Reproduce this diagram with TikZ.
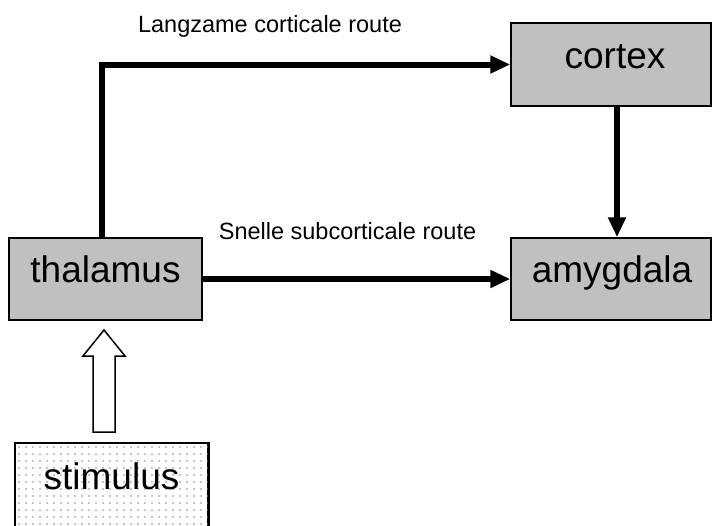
\documentclass[tikz,border=0pt]{standalone}
\usepackage{fontspec}
\setmainfont{Liberation Sans}
\usetikzlibrary{arrows.meta}
\definecolor{boxgray}{HTML}{C0C0C0}
\definecolor{dotgray}{HTML}{8C8C8C}
\begin{document}
\begin{tikzpicture}[x=1pt,y=-1pt,
  box/.style={draw=black,line width=1.5pt,fill=boxgray,inner sep=0pt},
  boxtext/.style={font=\fontsize{37}{40}\selectfont,inner sep=0pt,anchor=base},
  lbl/.style={font=\fontsize{23.5}{28}\selectfont,inner sep=0pt,anchor=base},
  conn/.style={line width=6pt,-{Triangle[length=20pt,width=17pt]}},
  hollow/.style={draw=black,line width=1.5pt,fill=white,line join=miter}]
\useasboundingbox (0,0) rectangle (712,525);
% boxes
\node[box,minimum width=193pt,minimum height=82pt] (thal) at (105.5,279) {};
\node[box,minimum width=200pt,minimum height=83pt] (cort) at (611,64.5) {};
\node[box,minimum width=200pt,minimum height=82pt] (amyg) at (611,279) {};
% stimulus box with dots
\node[draw=black,line width=1.5pt,fill=white,inner sep=0pt,minimum width=193pt,minimum height=92pt] (stim) at (111.5,489) {};
\begin{scope}
  \clip (stim.south west) rectangle (stim.north east);
  \foreach \i in {0,...,28}{
    \foreach \j in {0,...,13}{
      \fill[dotgray] (19+7*\i,447+7*\j) circle (0.85pt);
    }
  }
\end{scope}
\draw[line width=1.5pt] (stim.south west) rectangle (stim.north east);
% texts
\node[boxtext] (thalt) at (105.5,282) {thalamus};
\node[boxtext] (cortt) at (615,68) {cortex};
\node[boxtext] (amygt) at (612,282) {amygdala};
\node[boxtext] (stimt) at (111.5,489) {stimulus};
\node[lbl] (l1) at (270,32) {Langzame corticale route};
\node[lbl] (l2) at (347.5,239) {Snelle subcorticale route};
% connectors
\draw[conn] ([xshift=-3.5pt]thal.north) |- (cort.west);
\draw[conn] (thal.east) -- (amyg.west);
\draw[conn] ([xshift=6pt]cort.south) -- ([xshift=6pt]amyg.north);
% hollow arrow
\coordinate (hb) at (104,432);
\draw[hollow] (hb) ++(-11,0) -- ++(0,-76) -- ++(-10,0) -- (104,330) -- (125,356) -- ++(-10,0) -- (115,432) -- cycle;
\end{tikzpicture}
\end{document}
